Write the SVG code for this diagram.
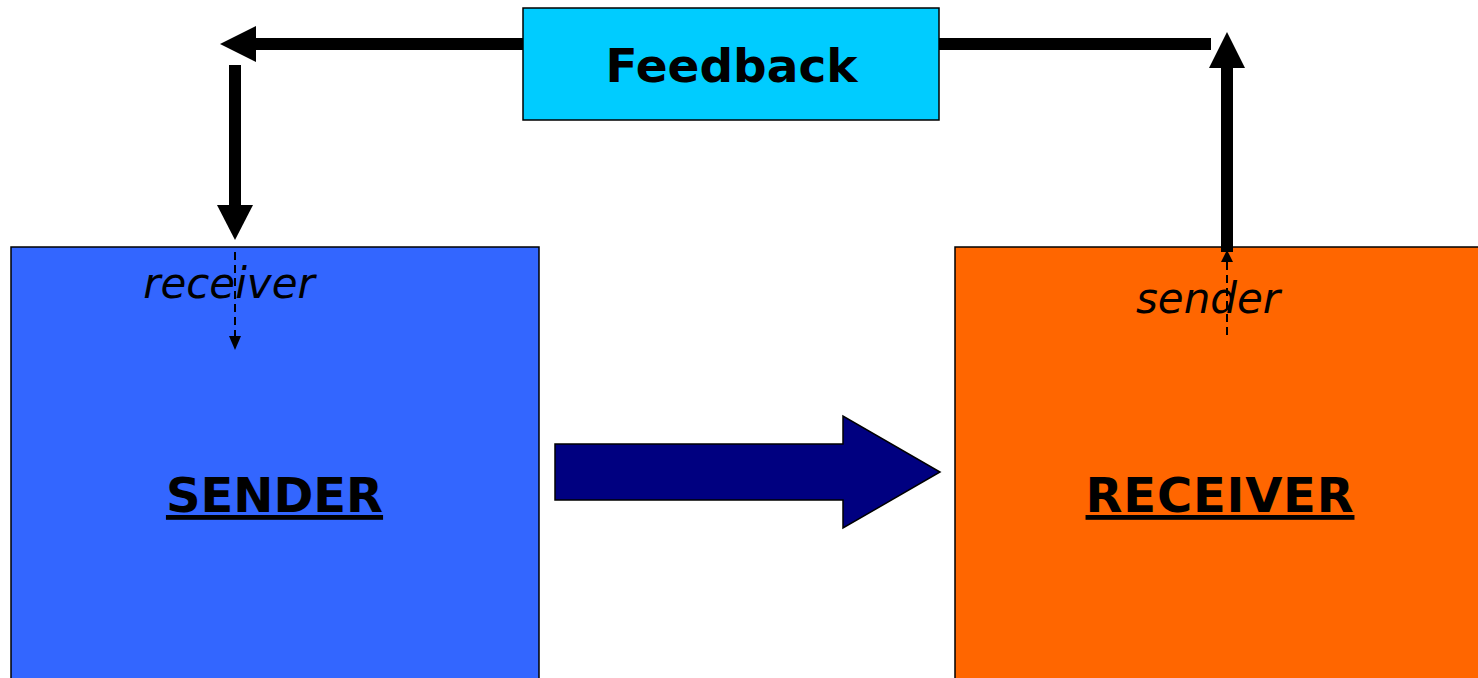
<svg xmlns="http://www.w3.org/2000/svg" width="1478" height="678" viewBox="0 0 1478 678">
  <style>
    .box { stroke: #000; stroke-width: 1.5; }
    .title { font-family: "DejaVu Sans", Verdana, sans-serif; font-weight: bold; fill: #000; text-anchor: middle; }
    .role { font-family: "DejaVu Sans", Verdana, sans-serif; font-style: italic; fill: #000; text-anchor: middle; font-size: 42px; }
    .thick { fill: #000; }
    .dash { stroke: #000; stroke-width: 2; stroke-dasharray: 8 5; fill: none; }
  </style>
  <rect width="1478" height="678" fill="#fff"/>

  <g id="sender">
    <rect class="box" x="11" y="247" width="528" height="440" fill="#3366FF"/>
    <text class="title" x="274.5" y="512" font-size="48" text-decoration="underline">SENDER</text>
  </g>

  <g id="receiver">
    <rect class="box" x="955" y="247" width="530" height="440" fill="#FF6600"/>
    <text class="title" x="1220" y="512" font-size="48" letter-spacing="0.8" text-decoration="underline">RECEIVER</text>
  </g>

  <g id="feedback">
    <rect class="box" x="523" y="8" width="416" height="112" fill="#00CCFF"/>
    <text class="title" x="731.5" y="82" font-size="47">Feedback</text>
  </g>

  <g id="connectors">
    <!-- message arrow from sender to receiver -->
    <polygon points="555,444 843,444 843,416 940,472 843,528 843,500 555,500" fill="#000080" stroke="#000" stroke-width="1.5"/>

    <!-- feedback loop: receiver up, across to the feedback box, on to the sender -->
    <rect class="thick" x="1221" y="66" width="12" height="186"/>
    <polygon class="thick" points="1209,68 1227,32 1245,68"/>
    <rect class="thick" x="939" y="38" width="272" height="12"/>
    <rect class="thick" x="254" y="38" width="269" height="12"/>
    <polygon class="thick" points="256,26 220,44 256,62"/>
    <rect class="thick" x="229" y="65" width="12" height="142"/>
    <polygon class="thick" points="217,205 235,240 253,205"/>

    <!-- role change inside each box -->
    <line class="dash" x1="235" y1="252" x2="235" y2="338"/>
    <polygon class="thick" points="229,336 235,350 241,336"/>
    <line class="dash" x1="1227" y1="335" x2="1227" y2="260"/>
    <polygon class="thick" points="1221,262 1227,250 1233,262"/>
  </g>

  <g id="labels">
    <text class="role" x="229" y="298">receiver</text>
    <text class="role" x="1208" y="313">sender</text>
  </g>
</svg>
